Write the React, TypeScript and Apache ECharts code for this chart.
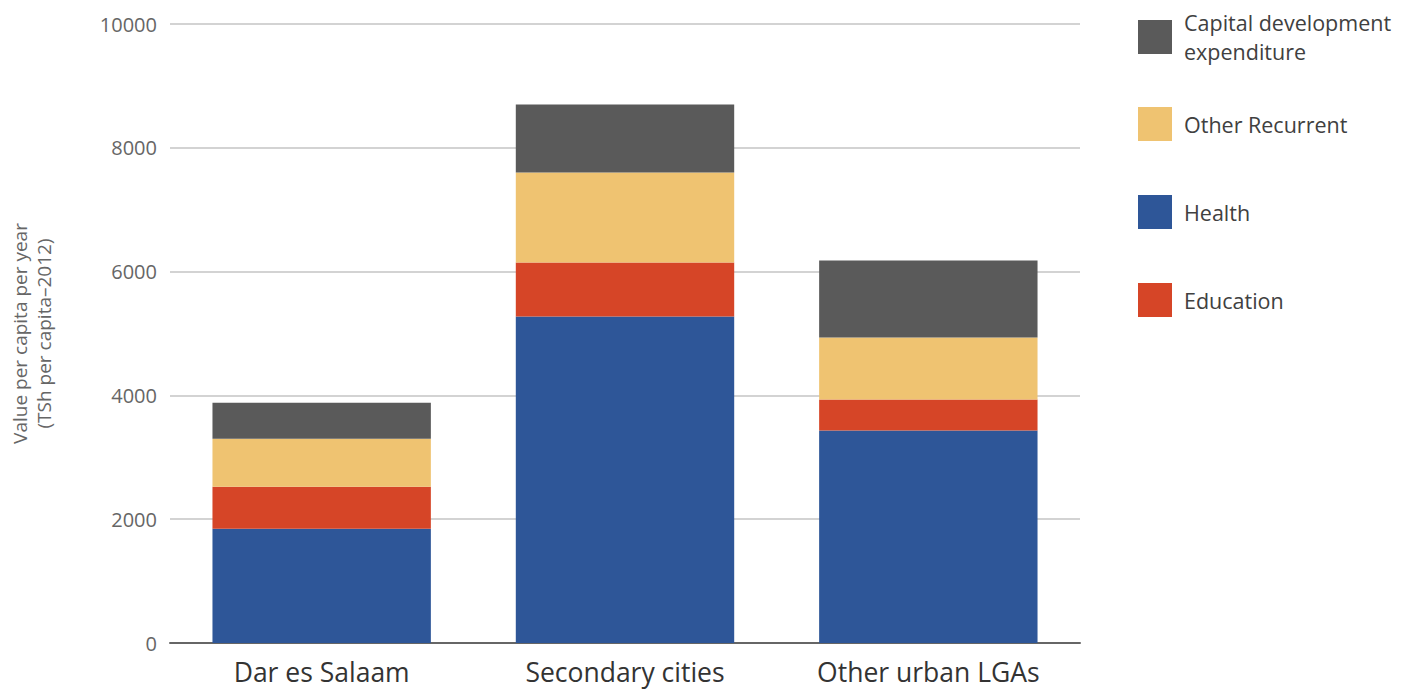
import React, { useEffect, useRef } from "react";
import * as echarts from "echarts";

const categories = ["Dar es Salaam", "Secondary cities", "Other urban LGAs"];
const health = [1845, 5273, 3431];
const education = [679, 873, 501];
const otherRecurrent = [777, 1454, 1002];
const capitalDev = [582, 1099, 1244];
const yTicks = [0, 2000, 4000, 6000, 8000, 10000];

const FONT = "'Open Sans', sans-serif";

const COLORS = {
  health: "#2e5698",
  education: "#d64527",
  other: "#efc371",
  capital: "#5a5a5a",
};

export default function App() {
  const ref = useRef<HTMLDivElement>(null);

  useEffect(() => {
    if (!ref.current) return;
    const chart = echarts.init(ref.current, undefined, { renderer: "svg" });

    const legendBase = {
      orient: "vertical" as const,
      left: 1133,
      itemWidth: 34,
      itemHeight: 34,
      icon: "rect",
      selectedMode: false,
      textStyle: {
        fontFamily: FONT,
        fontSize: 21.5,
        color: "#404040",
        lineHeight: 29,
        padding: [0, 0, 0, 7],
      },
    };

    chart.setOption({
      animation: false,
      textStyle: { fontFamily: FONT },
      grid: { left: 168, right: 328, top: 24, bottom: 48, containLabel: false },
      legend: [
        { ...legendBase, top: 3, data: [{ name: "Capital development\nexpenditure" }] },
        { ...legendBase, top: 102, data: [{ name: "Other Recurrent" }] },
        { ...legendBase, top: 190, data: [{ name: "Health" }] },
        { ...legendBase, top: 278, data: [{ name: "Education" }] },
      ],
      xAxis: {
        type: "category",
        data: categories,
        axisTick: { show: false },
        axisLine: { lineStyle: { color: "#666", width: 2 } },
        axisLabel: { fontFamily: FONT, fontSize: 26.5, color: "#333", margin: 15 },
      },
      yAxis: {
        type: "value",
        min: yTicks[0],
        max: yTicks[yTicks.length - 1],
        interval: 2000,
        name: "Value per capita per year\n(TSh per capita–2012)",
        nameLocation: "middle",
        nameGap: 114,
        nameTextStyle: { fontFamily: FONT, fontSize: 19, color: "#666", lineHeight: 24 },
        axisLine: { show: false },
        axisTick: { show: false },
        axisLabel: {
          fontFamily: FONT,
          fontSize: 20,
          color: "#666",
          margin: 13,
          formatter: (v: number) => String(v),
        },
        splitLine: { lineStyle: { color: "#d3d3d3", width: 2 } },
      },
      series: [
        { name: "Health", type: "bar", stack: "total", data: health, itemStyle: { color: COLORS.health }, barCategoryGap: "28%" },
        { name: "Education", type: "bar", stack: "total", data: education, itemStyle: { color: COLORS.education } },
        { name: "Other Recurrent", type: "bar", stack: "total", data: otherRecurrent, itemStyle: { color: COLORS.other } },
        { name: "Capital development\nexpenditure", type: "bar", stack: "total", data: capitalDev, itemStyle: { color: COLORS.capital } },
      ],
    });

    return () => chart.dispose();
  }, []);

  return (
    <div
      ref={ref}
      style={{ position: "fixed", left: 0, top: 0, width: 1408, height: 691, background: "#fff" }}
    />
  );
}
